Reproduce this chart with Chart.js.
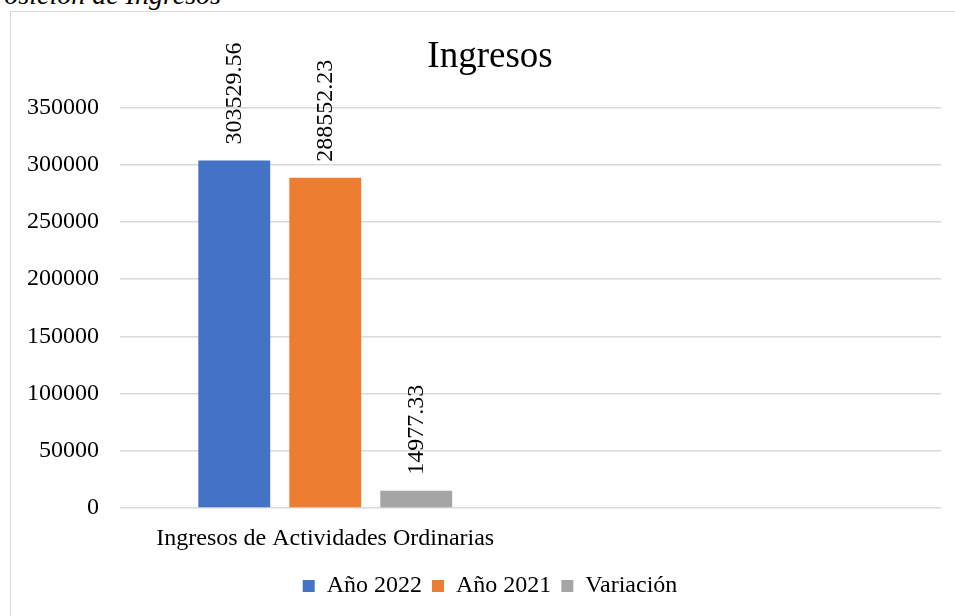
<!DOCTYPE html>
<html>
<head>
<meta charset="utf-8">
<script src="https://cdn.jsdelivr.net/npm/chart.js@4.4.0/dist/chart.umd.min.js"></script>
<style>
  html, body { margin: 0; padding: 0; background: #fff; overflow: hidden; }
  body { width: 955px; height: 616px; position: relative; }
  #cap { position: absolute; right: 734px; top: -19px; font: italic 28px "Liberation Serif", serif; line-height: 28px; white-space: nowrap; color: #000; }
  #box { position: absolute; left: 10px; top: 11px; width: 958px; height: 620px; border-left: 1px solid #d9d9d9; border-top: 1px solid #d9d9d9; }
</style>
</head>
<body>
<div id="cap">osición de Ingresos</div>
<div id="box"><canvas id="myChart" width="958" height="604"></canvas></div>
<script>
const categorias = ['Ingresos de Actividades Ordinarias', ''];
const anio2022 = [303529.56, null];
const anio2021 = [288552.23, null];
const variacion = [14977.33, null];

const fuente = '"Liberation Serif", "Times New Roman", serif';
Chart.defaults.font.family = fuente;
Chart.defaults.color = '#000';

// etiquetas verticales encima de cada barra
const etiquetas = {
  id: 'etiquetas',
  afterDatasetsDraw(chart) {
    const ctx = chart.ctx;
    ctx.save();
    ctx.font = '24px ' + fuente;
    ctx.fillStyle = '#000';
    ctx.textAlign = 'left';
    ctx.textBaseline = 'middle';
    chart.data.datasets.forEach((ds, i) => {
      chart.getDatasetMeta(i).data.forEach((bar, j) => {
        const v = ds.data[j];
        if (v === null) return;
        ctx.save();
        ctx.translate(bar.x, bar.y - 16);
        ctx.rotate(-Math.PI / 2);
        ctx.fillText(v.toFixed(2), 0, 0);
        ctx.restore();
      });
    });
    ctx.restore();
  }
};

const ctx = document.getElementById('myChart').getContext('2d');
let myChart = new Chart(ctx, {
  type: 'bar',
  data: {
    labels: categorias,
    datasets: [
      { label: 'Año 2022', data: anio2022, backgroundColor: '#4472C4' },
      { label: 'Año 2021', data: anio2021, backgroundColor: '#ED7D31' },
      { label: 'Variación', data: variacion, backgroundColor: '#A5A5A5' }
    ]
  },
  options: {
    responsive: false,
    animation: false,
    categoryPercentage: 0.665,
    barPercentage: 0.79,
    layout: { padding: { left: 0, right: 0, top: 0, bottom: 8 } },
    plugins: {
      title: {
        display: true,
        text: 'Ingresos',
        font: { size: 37, weight: 'normal' },
        color: '#000',
        padding: { top: 23, bottom: 28 }
      },
      legend: {
        position: 'bottom',
        labels: { boxWidth: 12, boxHeight: 12, padding: 10, font: { size: 24 } }
      },
      tooltip: { enabled: false }
    },
    scales: {
      x: {
        afterFit(scale) { scale.height = 56; },
        grid: { display: false },
        border: { display: false },
        ticks: { font: { size: 24 }, padding: 8, maxRotation: 0 }
      },
      y: {
        min: 0,
        max: 350000,
        afterFit(scale) { scale.width = 109; },
        grid: { color: '#d9d9d9', lineWidth: 1.5, drawTicks: false },
        border: { display: false },
        ticks: { stepSize: 50000, font: { size: 24 }, padding: 21, callback: v => String(v) }
      },
      // margen derecho vacío, para que el título quede centrado en todo el gráfico
      margen: {
        position: 'right',
        min: 0,
        max: 1,
        afterFit(scale) { scale.width = 28; },
        grid: { display: false },
        border: { display: false },
        ticks: { display: false }
      }
    }
  },
  plugins: [etiquetas]
});
</script>
</body>
</html>
